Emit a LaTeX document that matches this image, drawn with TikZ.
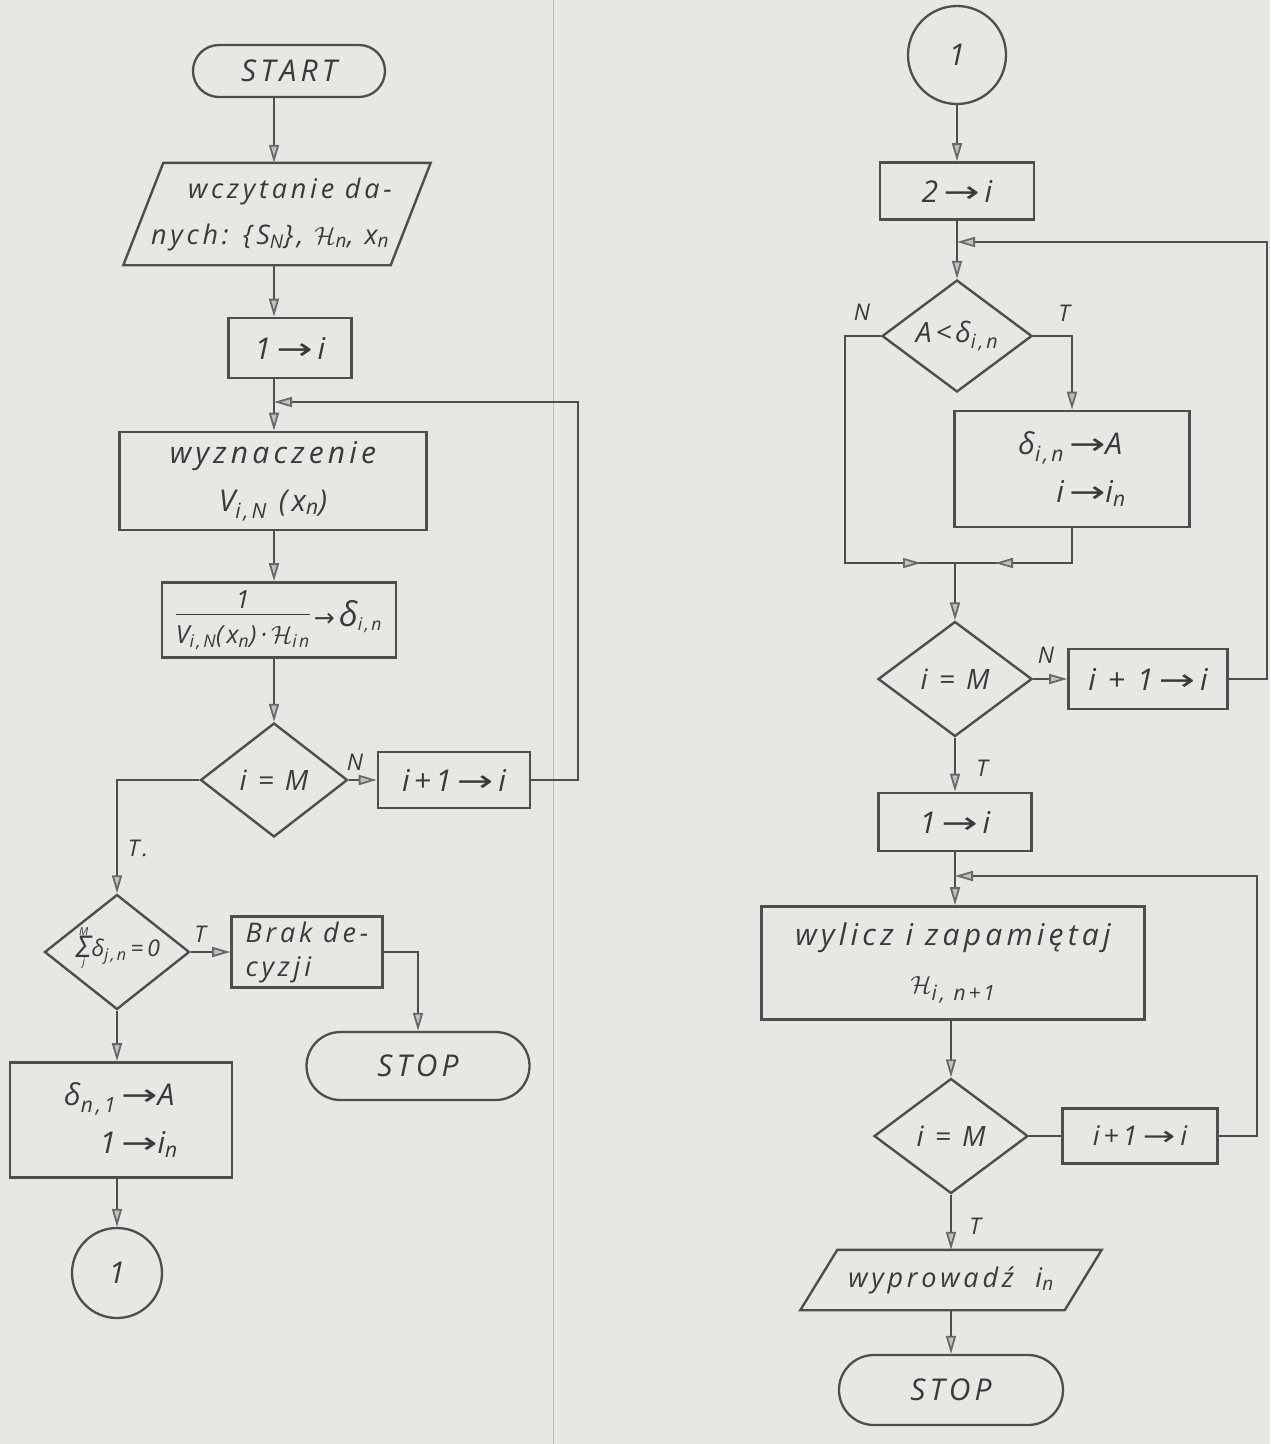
\documentclass[tikz,border=0pt]{standalone}
\usepackage{fontspec}
\setmainfont{Open Sans}[LetterSpace=14]
\newfontfamily\symf{DejaVu Sans}
\usetikzlibrary{arrows.meta,shapes.geometric,shapes.misc}

\definecolor{paper}{RGB}{231,231,228}
\definecolor{ink}{RGB}{78,78,78}
\definecolor{pen}{RGB}{58,58,58}
\newcommand\toarrow{\hspace{5pt}\scalebox{1.45}[1]{\symf →}\hspace{5pt}}
\newcommand\Hs{$\mathcal{H}$}
% summation sign with its limits written above and below
\newcommand\sumjM{\raisebox{-9pt}{\shortstack{{\fontsize{11}{11}\selectfont M}\\[-2pt]{\fontsize{30}{26}\selectfont Σ}\\[-3pt]{\fontsize{11}{11}\selectfont j}}}}

\tikzset{
  every node/.style={font=\fontsize{30}{48}\selectfont\itshape, text=pen},
  box/.style={draw=ink, line width=2.6pt, rectangle, inner sep=0pt},
  term/.style={draw=ink, line width=2.3pt, rounded rectangle, inner sep=0pt},
  dec/.style={draw=ink, line width=2.4pt, diamond, aspect=1.3, inner sep=0pt,
              font=\fontsize{28}{34}\selectfont\itshape},
  conn/.style={draw=ink, line width=2.3pt, circle, inner sep=0pt},
  iobox/.style={rectangle, inner sep=0pt},
  ioline/.style={draw=ink, line width=2.4pt, line join=miter},
  wire/.style={draw=ink, line width=1.8pt},
  flow/.style={wire, -{Triangle[length=18pt,width=10pt,fill=ink!35,color=ink!85]}},
  lab/.style={font=\fontsize{23}{26}\selectfont\itshape},
}

\begin{document}
\begin{tikzpicture}[x=1pt,y=-1pt]
  % paper
  \fill[paper] (0,0) rectangle (1270,1444);
  \useasboundingbox (0,0) rectangle (1270,1444);
  % fold between the two halves of the sheet
  \draw[gray!55, line width=1pt] (553,0) -- (553,1444);

  % ---------------- left half ----------------
  \coordinate (colL) at (274,0);
  \node[term, minimum width=192pt, minimum height=52pt] (start) at (289,71) {START};

  \node[iobox, minimum width=267pt, minimum height=102pt] (read) at (277,214) {};
  \draw[ioline] ([xshift=20pt]read.north west) -- ([xshift=20pt]read.north east)
     -- ([xshift=-20pt]read.south east) -- ([xshift=-20pt]read.south west) -- cycle;
  \node[align=center, font=\fontsize{27}{46}\selectfont\itshape] (readtxt) at (read)
     {\hspace*{26pt}wczytanie da-\\nych: \{S\textsubscript{N}\}, \Hs\textsubscript{n}, x\textsubscript{n}\hspace*{14pt}};

  \node[box, minimum width=123pt, minimum height=60pt] (one1) at (290,348) {1\toarrow i};
  \node[box, minimum width=307pt, minimum height=98pt, align=center] (det) at (273,481)
     {wyznaczenie\\V\textsubscript{i,N} (x\textsubscript{n})};
  \node[box, minimum width=234pt, minimum height=75pt, font=\fontsize{25}{30}\selectfont\itshape] (frac) at (279,620)
     {\setlength\arrayrulewidth{1.6pt}\begin{tabular}{@{}c@{}}1\\[-4pt]\hline\rule{0pt}{28pt}V\textsubscript{i,N}(x\textsubscript{n})\,·\,\Hs\textsubscript{in}\end{tabular}\,{\symf →}\,{\fontsize{34}{34}\selectfont δ}\textsubscript{i,n}};
  \node[dec, minimum width=147pt, minimum height=114pt] (dec1) at (274,780) {i = M};
  \node[box, minimum width=152pt, minimum height=56pt] (inc1) at (454,780) {i+1\toarrow i};

  \node[dec, minimum width=145pt, minimum height=115pt] (sum) at (117,952) {};
  \node[font=\fontsize{23}{26}\selectfont\itshape] (sumtxt) at (118,948)
     {\sumjM δ\textsubscript{j,n}\,=\,0};
  \node[box, minimum width=151pt, minimum height=71pt, align=left, font=\fontsize{27}{34}\selectfont\itshape] (brak) at (307,952)
     {Brak de-\\cyzji};
  \node[term, minimum width=223pt, minimum height=68pt] (stop1) at (418,1066) {STOP};
  \node[box, minimum width=222pt, minimum height=115pt] (asg1) at (121,1120)
     {\begin{tabular}{@{}r@{}c@{}l@{}}δ\textsubscript{n,1} & \toarrow & A\\ 1 & \toarrow & i\textsubscript{n}\end{tabular}};
  \node[conn, minimum size=90pt] (c1) at (117,1273) {1};

  \draw[flow] (start.south -| colL) -- (read.north -| colL);
  \draw[flow] (read.south -| colL) -- (one1.north -| colL);
  \draw[flow] (one1.south -| colL) -- (det.north -| colL);
  \draw[flow] (det.south -| colL) -- (frac.north -| colL);
  \draw[flow] (frac.south -| colL) -- (dec1.north);
  \draw[flow] (dec1.east) -- (inc1.west);
  \coordinate (loopL) at (578,402);
  \draw[flow] (inc1.east) -| (loopL) -- (loopL -| colL);
  \draw[flow] (dec1.west) -| (sum.north);
  \draw[flow] (sum.east) -- (brak.west);
  \draw[flow] (brak.east) -| (stop1.north);
  \draw[flow] (sum.south) -- (asg1.north -| sum);
  \draw[flow] (asg1.south -| c1) -- (c1.north);

  \node[lab] at (355,762) {N};
  \node[lab] at (138,848) {T.};
  \node[lab] at (200,934) {T};

  % ---------------- right half ----------------
  \node[conn, minimum size=98pt] (c2) at (957,55) {1};
  \node[box, minimum width=154pt, minimum height=57pt] (two) at (957,191) {2\toarrow i};
  \node[dec, minimum width=150pt, minimum height=112pt, aspect=1.34] (dA) at (957,336)
     {A<δ\textsubscript{i,n}};
  \node[box, minimum width=235pt, minimum height=116pt] (asg2) at (1072,469)
     {\begin{tabular}{@{}r@{}c@{}l@{}}δ\textsubscript{i,n} & \toarrow & A\\ i & \toarrow & i\textsubscript{n}\end{tabular}};
  \coordinate (merge) at (955,563);
  \coordinate (nLx) at (845,0);
  \node[dec, minimum width=154pt, minimum height=115pt] (dec2) at (955,679) {i = M};
  \node[box, minimum width=159pt, minimum height=60pt] (inc2) at (1148,679) {i + 1\toarrow i};
  \node[box, minimum width=153pt, minimum height=58pt] (one2) at (955,822) {1\toarrow i};
  \node[box, minimum width=383pt, minimum height=113pt, align=center] (calc) at (953,963)
     {wylicz i zapamiętaj\\\Hs\textsubscript{i, n+1}};
  \node[dec, minimum width=154pt, minimum height=115pt] (dec3) at (951,1136) {i = M};
  \node[box, minimum width=155pt, minimum height=55pt, font=\fontsize{27}{30}\selectfont\itshape] (inc3) at (1140,1136) {i+1\toarrow i};
  \node[iobox, minimum width=264pt, minimum height=60pt] (out) at (951,1280) {};
  \draw[ioline] ([xshift=18.5pt]out.north west) -- ([xshift=18.5pt]out.north east)
     -- ([xshift=-18.5pt]out.south east) -- ([xshift=-18.5pt]out.south west) -- cycle;
  \node[font=\fontsize{27}{30}\selectfont\itshape] (outtxt) at (out) {wyprowadź\ \ i\textsubscript{n}};
  \node[term, minimum width=224pt, minimum height=70pt] (stop2) at (951,1390) {STOP};

  \draw[flow] (c2) -- (two);
  \draw[flow] (two.south) -- (dA.north);
  \coordinate (loopR1) at (1267,242);
  \draw[flow] (inc2.east) -| (loopR1) -- (loopR1 -| two);
  \draw[flow] (dA.east) -| (asg2.north);
  \draw[wire] (merge -| nLx) -- (merge -| asg2.south);
  \draw[flow] (dA.west) -| (merge -| nLx) -- ([xshift=-34pt]merge);
  \draw[flow] (asg2.south) |- ([xshift=40pt]merge);
  \draw[flow] (merge) -- (dec2.north);
  \draw[flow] (dec2.east) -- (inc2.west);
  \draw[flow] (dec2.south) -- (one2.north);
  \draw[flow] (one2.south) -- (calc.north -| one2);
  \coordinate (loopR2) at (1257,876);
  \draw[flow] (inc3.east) -| (loopR2) -- (loopR2 -| one2);
  \draw[flow] (calc.south -| dec3) -- (dec3.north);
  \draw[wire] (dec3.east) -- (inc3.west);
  \draw[flow] (dec3.south) -- (out.north);
  \draw[flow] (out.south) -- (stop2.north);

  \node[lab] at (862,312) {N};
  \node[lab] at (1064,313) {T};
  \node[lab] at (1046,655) {N};
  \node[lab] at (982,768) {T};
  \node[lab] at (975,1226) {T};
\end{tikzpicture}
\end{document}
